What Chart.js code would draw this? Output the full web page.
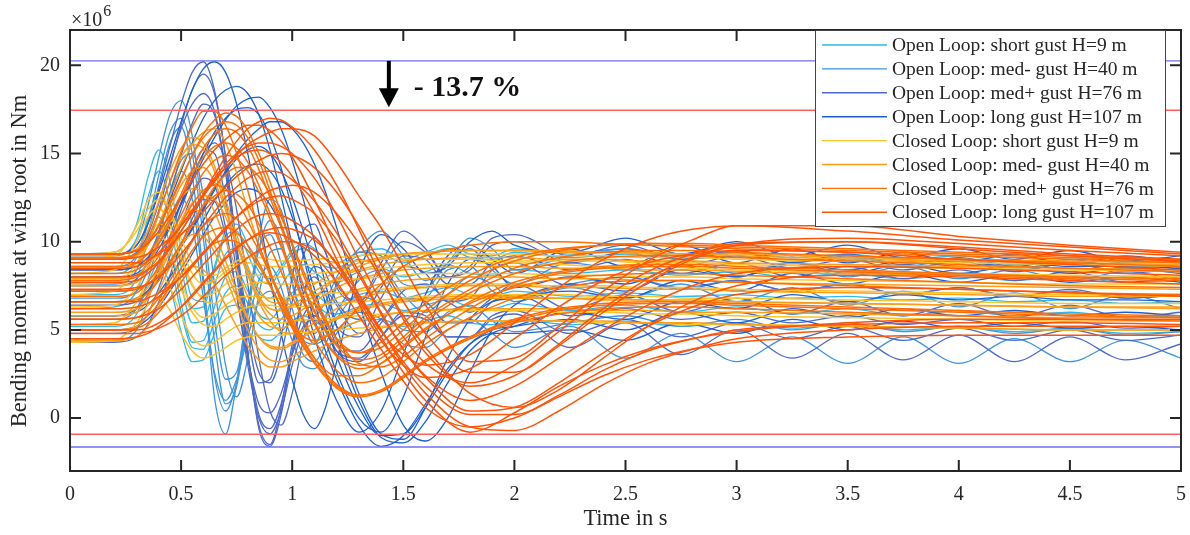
<!DOCTYPE html>
<html><head><meta charset="utf-8">
<script src="https://cdn.jsdelivr.net/npm/chart.js@4.4.1/dist/chart.umd.min.js"></script>
<style>html,body{margin:0;padding:0;background:#fff;}#wrap{width:1190px;height:535px;}</style>
</head><body><div id="wrap"><canvas id="c" width="1190" height="535"></canvas></div>
<script>
// ---- time bases (s) ----
const tCL = [0,0.2,0.3,0.35,0.4,0.45,0.5,0.55,0.6,0.65,0.7,0.75,0.8,0.85,0.9,0.95,1.0,1.1,1.2,1.3,1.4,1.5,1.6,1.8,2.0,2.2,2.4,2.6,2.8,3.0,3.5,4.0,4.5,5.0];
const tOL = [0,0.2,0.3,0.35,0.4,0.45,0.5,0.55,0.6,0.65,0.7,0.75,0.8,0.85,0.9,0.95,1.0,1.05,1.1,1.15,1.2,1.3,1.4,1.5,1.6,1.7,1.8,1.9,2.0,2.25,2.5,2.75,3.0,3.25,3.5,3.75,4.0,4.25,4.5,4.75,5.0];

// ---- Open loop, short gust H=9 m (x1e6 Nm) ----
const olShort1 = [9.2,9.2,10.2,12.5,14.0,12.2,8.6,6.2,6.3,8.4,10.3,10.6,9.3,7.9,7.6,8.4,9.3,9.6,9.2,8.6,8.5,9.2,9.3,8.8,9.2,9.6,9.1,9.0,9.4,9.1,9.3,9.0,9.2,8.9,9.1,8.8,9.0,8.7,8.9,8.6,8.7];
const olShort2 = [7.0,7.0,7.9,10.0,11.4,9.8,6.5,4.3,4.4,6.3,8.0,8.3,7.2,5.9,5.6,6.3,7.1,7.4,7.1,6.6,6.5,7.0,7.2,6.8,7.1,7.4,7.0,6.9,7.2,6.9,7.1,6.9,7.0,6.8,6.9,6.7,6.8,6.6,6.7,6.5,6.6];
const olShort3 = [5.2,5.2,5.9,7.6,8.8,7.5,4.9,3.2,3.3,4.8,6.2,6.4,5.6,4.6,4.4,4.9,5.5,5.8,5.5,5.1,5.0,5.5,5.6,5.2,5.5,5.8,5.4,5.3,5.6,5.3,5.5,5.2,5.4,5.1,5.3,5.0,5.2,4.9,5.1,4.8,4.9];
const olShort4 = [8.2,8.2,9.1,11.3,12.8,11.1,7.7,5.4,5.5,7.5,9.3,9.6,8.4,7.1,6.8,7.5,8.4,8.7,8.3,7.8,7.7,8.3,8.5,8.0,8.3,8.7,8.2,8.1,8.4,8.2,8.4,8.1,8.3,8.0,8.2,7.9,8.1,7.8,8.0,7.7,7.8];
const olShort5 = [9.3,9.4,11.0,13.6,15.2,13.4,9.6,6.8,6.6,8.6,10.6,11.0,9.8,8.3,7.9,8.6,9.5,9.9,9.6,9.0,8.8,9.4,9.6,9.0,9.4,9.8,9.3,9.2,9.6,9.3,9.6,9.2,9.4,9.1,9.3,9.0,9.2,8.9,9.1,8.8,8.9];
const olShort6 = [6.2,6.3,7.2,9.0,10.2,8.9,6.0,4.0,3.9,5.5,7.1,7.5,6.5,5.3,5.0,5.6,6.4,6.7,6.5,6.0,5.9,6.3,6.5,6.1,6.4,6.7,6.3,6.2,6.5,6.1,6.4,6.0,6.3,5.9,6.2,5.8,6.1,5.8,6.0,5.7,5.8];
// ---- Open loop, med- gust H=40 m ----
const olMedM1 = [9.3,9.3,10.0,12.0,14.8,17.2,18.0,16.0,11.2,5.6,2.2,2.6,6.2,10.2,12.4,11.8,9.2,6.6,5.8,6.6,8.0,9.6,10.6,9.2,7.8,8.8,10.2,9.6,8.4,9.2,9.6,9.0,9.4,8.8,9.2,8.6,9.0,8.5,8.8,8.3,8.5];
const olMedM2 = [7.6,7.6,8.4,10.4,13.2,15.6,16.5,13.8,8.0,1.2,-0.9,2.0,6.4,9.6,10.4,8.8,6.2,4.4,4.2,5.6,7.4,9.0,8.4,6.6,6.8,8.4,8.6,7.2,6.8,7.6,8.0,7.4,7.8,7.2,7.6,7.0,7.4,6.9,7.2,6.8,7.0];
const olMedM3 = [5.6,5.6,6.2,7.8,10.2,12.6,14.0,12.4,7.6,2.4,0.4,2.0,5.2,7.8,8.6,7.4,5.2,3.6,3.2,4.2,5.6,6.9,6.4,5.0,4.9,6.0,6.4,5.5,4.9,5.4,5.8,5.2,5.6,5.0,5.4,4.9,5.2,4.8,5.1,4.7,4.9];
const olMedM4 = [4.4,4.4,5.0,6.6,8.9,11.2,12.5,11.0,6.8,2.6,1.0,2.2,4.6,6.6,7.2,6.2,4.4,3.0,2.8,3.6,4.8,6.0,5.6,4.2,4.0,5.0,5.6,4.8,4.0,5.2,3.4,4.8,3.2,4.6,3.1,4.6,3.1,4.5,3.2,4.4,3.4];
const olMedM5 = [8.6,8.6,9.2,11.0,13.8,16.2,17.0,15.0,10.2,4.4,0.8,1.8,5.8,9.6,11.2,10.2,7.6,5.4,4.8,5.8,7.6,9.4,9.2,7.6,7.4,8.8,9.6,8.4,7.6,8.8,8.4,9.0,8.2,8.8,8.0,8.6,7.9,8.4,7.8,8.3,7.8];
const olMedM6 = [6.8,6.8,7.2,8.4,10.4,12.8,14.6,15.0,12.6,7.6,3.0,1.2,3.4,7.0,9.4,9.6,7.8,5.4,4.2,4.6,6.0,7.8,8.4,7.0,6.0,7.0,8.0,7.6,6.6,7.4,6.8,7.6,6.6,7.4,6.4,7.2,6.3,7.1,6.2,7.0,6.2];
// ---- Open loop, med+ gust H=76 m ----
const olMedP1 = [9.3,9.3,9.8,11.0,13.0,15.4,17.8,19.6,20.2,18.6,14.8,9.6,4.8,2.0,2.2,4.6,8.0,10.6,11.0,9.4,7.4,6.6,8.8,10.6,9.6,8.0,8.6,10.2,10.4,9.2,9.8,9.0,9.5,8.8,9.3,8.7,9.1,8.6,9.0,8.5,8.7];
const olMedP2 = [7.5,7.5,7.9,8.9,10.6,12.7,14.9,16.7,17.8,17.2,13.9,9.0,3.6,-0.4,-1.5,0.6,4.2,7.0,8.0,7.0,5.2,4.6,6.8,8.6,8.2,6.6,6.8,8.4,8.8,7.5,8.0,7.3,7.8,7.2,7.6,7.0,7.4,6.9,7.3,6.8,7.0];
const olMedP3 = [5.8,5.8,6.2,7.0,8.5,10.3,12.2,14.0,15.2,15.0,12.4,8.2,3.6,0.2,-0.6,0.8,3.6,5.8,6.4,5.6,4.2,3.8,5.4,6.8,6.6,5.4,5.4,6.6,7.0,5.8,6.2,5.6,6.0,5.4,5.8,5.3,5.6,5.2,5.5,5.1,5.2];
const olMedP4 = [4.3,4.3,4.6,5.3,6.6,8.1,9.8,11.3,12.4,12.3,10.3,7.0,3.4,0.8,0.3,1.4,3.6,5.2,5.6,4.9,3.8,3.4,4.6,5.8,5.6,4.6,4.6,5.6,5.9,4.0,5.4,3.6,5.0,3.4,4.8,3.3,4.7,3.2,4.6,3.3,4.2];
const olMedP5 = [8.4,8.4,8.8,9.9,11.8,14.2,16.6,18.6,19.5,18.4,14.8,9.6,3.8,-0.6,-1.6,0.2,3.8,7.0,8.6,8.2,6.6,5.6,7.4,9.2,9.0,7.6,7.6,8.8,9.2,8.4,9.0,8.2,8.8,8.0,8.6,7.9,8.4,7.8,8.3,7.7,8.0];
const olMedP6 = [6.4,6.4,6.6,7.2,8.4,10.0,11.8,13.6,15.0,15.6,14.6,11.8,7.6,3.4,0.4,-0.4,1.4,4.4,6.6,7.2,6.4,4.8,5.6,7.2,7.6,6.6,6.0,6.8,7.6,6.2,7.0,6.0,6.8,5.9,6.6,5.8,6.5,5.7,6.4,5.7,6.0];
const olMedP7 = [9.0,9.0,9.4,10.4,12.2,14.4,16.4,17.8,18.4,17.4,14.2,9.8,5.4,2.6,2.0,3.6,6.6,9.2,10.2,9.4,7.6,6.6,8.4,10.0,9.4,8.0,8.4,9.8,10.0,8.8,9.4,8.6,9.2,8.5,9.0,8.4,8.9,8.3,8.8,8.2,8.5];
const olMedP8 = [4.8,4.8,5.1,5.9,7.4,9.2,11.0,12.6,13.6,13.2,10.8,7.0,3.0,0.0,-0.9,0.4,3.0,5.0,5.8,5.2,3.8,3.2,4.6,6.0,5.8,4.6,4.6,5.8,6.1,4.8,5.6,4.6,5.4,4.5,5.2,4.4,5.1,4.4,5.0,4.4,4.7];
// ---- Open loop, long gust H=107 m ----
const olLong1 = [9.3,9.3,9.8,11.0,12.8,14.8,16.8,18.6,19.8,20.2,19.6,17.8,15.0,11.6,8.0,4.8,2.2,0.2,-0.6,0.6,3.2,8.2,10.4,9.6,8.2,8.6,10.0,10.6,9.8,9.4,10.2,9.3,10.0,9.2,9.8,9.1,9.6,9.0,9.5,8.9,9.2];
const olLong2 = [8.4,8.4,8.6,9.1,9.9,10.9,12.1,13.4,14.7,15.9,16.9,17.7,18.1,18.2,17.6,16.4,14.6,12.4,10.0,7.6,5.2,1.4,-0.9,-1.2,0.6,3.4,5.6,6.6,6.8,7.6,7.2,8.4,8.0,8.8,8.4,8.9,8.6,8.8,8.6,8.6,8.5];
const olLong3 = [6.6,6.6,6.8,7.2,7.9,8.7,9.7,10.8,11.9,13.0,13.9,14.7,15.2,15.4,15.0,14.0,12.5,10.6,8.6,6.5,4.4,1.0,-1.1,-1.4,-0.2,2.0,3.8,4.8,5.2,6.0,5.6,6.6,6.2,7.0,6.6,7.0,6.7,6.9,6.7,6.7,6.6];
const olLong4 = [5.0,5.0,5.2,5.6,6.3,7.2,8.2,9.3,10.4,11.4,12.2,12.8,13.0,12.8,12.1,10.9,9.3,7.5,5.6,3.8,2.2,-0.4,-1.6,-1.0,0.8,2.8,4.2,4.8,4.8,5.0,4.4,5.4,4.8,5.6,5.0,5.5,5.1,5.4,5.1,5.2,5.0];
const olLong5 = [9.0,9.0,9.3,9.9,11.0,12.4,14.0,15.6,17.0,18.0,18.6,18.8,18.4,17.2,15.2,12.6,9.8,7.0,4.6,2.6,1.0,-0.8,0.4,3.6,7.0,9.2,9.8,9.0,8.2,9.6,8.6,9.8,8.8,9.6,8.8,9.4,8.8,9.3,8.7,9.2,8.8];
const olLong6 = [7.2,7.2,7.3,7.6,8.1,8.8,9.7,10.7,11.8,12.9,14.0,15.0,15.8,16.4,16.8,16.8,16.4,15.6,14.4,12.8,10.8,6.6,2.6,-0.4,-1.3,0.0,2.6,5.0,6.4,7.2,6.8,7.8,7.2,8.2,7.6,8.2,7.7,8.1,7.7,8.0,7.7];
const olLong7 = [8.0,8.0,8.2,8.7,9.6,10.8,12.2,13.6,15.0,16.2,17.0,17.5,17.6,17.2,16.0,14.2,11.8,9.2,6.6,4.4,2.6,0.0,-0.8,1.2,4.6,7.6,9.0,8.6,7.4,8.0,7.6,8.6,8.0,8.8,8.2,8.7,8.2,8.6,8.2,8.5,8.2];
const olLong8 = [5.8,5.8,6.0,6.4,7.1,8.0,9.0,10.1,11.2,12.3,13.2,13.9,14.3,14.4,14.0,13.0,11.4,9.4,7.3,5.3,3.5,0.6,-1.0,-0.9,0.6,2.6,4.2,5.0,5.2,5.6,5.0,6.0,5.4,6.2,5.7,6.2,5.8,6.1,5.8,6.0,5.8];

// ---- Closed loop, short gust H=9 m ----
const clShort1 = [9.0,9.2,10.9,12.3,12.8,11.7,9.7,8.2,7.6,7.8,8.3,8.7,8.8,8.7,8.6,8.6,8.6,8.7,8.8,8.9,9.0,9.0,9.0,9.0,8.9,8.9,8.9,8.8,8.8,8.7,8.6,8.5,8.4,8.3];
const clShort2 = [7.0,7.2,8.6,9.9,10.4,9.5,7.7,6.3,5.7,5.9,6.4,6.8,6.9,6.9,6.8,6.8,6.9,7.0,7.1,7.2,7.3,7.4,7.5,7.6,7.6,7.5,7.5,7.4,7.4,7.3,7.2,7.1,7.0,7.0];
const clShort3 = [5.3,5.4,6.6,7.8,8.2,7.4,5.8,4.6,4.1,4.3,4.8,5.2,5.4,5.4,5.4,5.4,5.5,5.6,5.7,5.8,5.9,6.0,6.1,6.1,6.1,6.0,6.0,5.9,5.9,5.8,5.7,5.6,5.5,5.5];
const clShort4 = [8.2,8.4,10.0,11.4,11.9,10.9,9.0,7.5,6.9,7.1,7.6,8.0,8.1,8.1,8.0,8.0,8.1,8.2,8.3,8.4,8.5,8.6,8.7,8.8,8.8,8.7,8.6,8.6,8.5,8.4,8.3,8.2,8.1,8.0];
const clShort5 = [4.3,4.4,5.4,6.4,6.8,6.1,4.8,3.8,3.4,3.6,4.0,4.4,4.6,4.7,4.7,4.7,4.8,4.9,5.0,5.1,5.2,5.3,5.4,5.5,5.5,5.5,5.4,5.4,5.3,5.3,5.2,5.1,5.0,5.0];
const clShort6 = [9.3,9.4,10.6,11.8,12.4,11.8,10.2,8.8,8.1,8.1,8.5,8.9,9.1,9.1,9.0,8.9,8.9,9.0,9.1,9.2,9.3,9.3,9.3,9.3,9.3,9.2,9.2,9.1,9.1,9.0,8.9,8.8,8.7,8.6];
const clShort7 = [6.3,6.4,7.4,8.6,9.2,8.7,7.3,6.0,5.3,5.2,5.6,6.0,6.3,6.4,6.4,6.3,6.3,6.4,6.5,6.6,6.7,6.8,6.9,7.0,7.0,7.0,6.9,6.9,6.8,6.8,6.7,6.6,6.5,6.5];
const clShort8 = [7.6,7.7,8.8,10.2,11.0,10.6,9.1,7.6,6.7,6.5,6.9,7.3,7.6,7.7,7.7,7.6,7.6,7.7,7.8,7.9,8.0,8.1,8.2,8.2,8.2,8.1,8.1,8.0,8.0,7.9,7.8,7.7,7.6,7.6];
// ---- Closed loop, med- gust H=40 m ----
const clMedM1 = [9.3,9.3,9.6,10.6,12.3,14.0,15.3,15.9,15.6,14.3,12.4,10.4,8.6,7.3,6.6,6.5,6.8,7.6,8.3,8.8,9.1,9.3,9.4,9.5,9.5,9.4,9.4,9.3,9.3,9.2,9.0,8.9,8.8,8.7];
const clMedM2 = [7.5,7.5,7.7,8.5,9.9,11.4,12.5,13.0,12.8,11.7,10.1,8.4,6.9,5.8,5.2,5.1,5.4,6.1,6.8,7.3,7.6,7.8,7.9,8.0,8.0,7.9,7.9,7.8,7.8,7.7,7.6,7.5,7.4,7.3];
const clMedM3 = [6.0,6.0,6.2,6.9,8.1,9.4,10.4,10.9,10.7,9.8,8.4,6.9,5.6,4.6,4.1,4.0,4.3,5.0,5.6,6.1,6.4,6.6,6.7,6.8,6.8,6.8,6.7,6.7,6.6,6.6,6.5,6.4,6.3,6.3];
const clMedM4 = [4.4,4.4,4.6,5.2,6.3,7.4,8.2,8.6,8.4,7.6,6.4,5.2,4.1,3.3,2.9,2.9,3.2,3.8,4.4,4.8,5.1,5.3,5.4,5.5,5.5,5.5,5.5,5.4,5.4,5.3,5.2,5.1,5.0,5.0];
const clMedM5 = [8.5,8.5,8.8,9.8,11.6,13.4,14.8,15.5,15.3,14.0,12.0,10.0,8.2,6.9,6.2,6.1,6.4,7.2,7.9,8.4,8.7,8.9,9.0,9.1,9.1,9.0,9.0,8.9,8.9,8.8,8.7,8.6,8.5,8.4];
const clMedM6 = [9.0,9.0,9.2,9.8,11.0,12.6,14.2,15.5,16.2,16.4,15.6,13.9,11.8,9.8,8.1,6.9,6.4,6.9,7.9,8.6,9.0,9.3,9.4,9.5,9.5,9.5,9.4,9.4,9.3,9.3,9.1,9.0,8.9,8.8];
const clMedM7 = [6.6,6.6,6.8,7.4,8.5,9.9,11.2,12.2,12.6,12.4,11.4,9.8,8.1,6.6,5.5,4.9,4.8,5.4,6.2,6.8,7.1,7.3,7.4,7.5,7.5,7.4,7.4,7.3,7.3,7.2,7.1,7.0,6.9,6.9];
const clMedM8 = [5.0,5.0,5.2,5.9,7.2,8.6,9.8,10.4,10.3,9.4,8.0,6.4,5.0,3.9,3.3,3.2,3.5,4.3,5.0,5.5,5.8,6.0,6.1,6.2,6.2,6.2,6.1,6.1,6.0,6.0,5.9,5.8,5.7,5.7];
const clMedM9 = [7.9,7.9,8.1,8.8,10.2,11.8,13.2,14.0,14.2,13.4,11.8,10.0,8.2,6.8,5.9,5.6,5.8,6.6,7.4,7.9,8.2,8.4,8.5,8.6,8.6,8.5,8.5,8.4,8.4,8.3,8.2,8.1,8.0,7.9];
const clMedM10 = [5.8,5.8,6.0,6.8,8.2,9.8,11.1,11.8,11.6,10.5,8.9,7.2,5.7,4.6,4.0,3.9,4.2,5.0,5.7,6.2,6.5,6.7,6.8,6.9,6.9,6.8,6.8,6.7,6.7,6.6,6.5,6.4,6.3,6.2];
// ---- Closed loop, med+ gust H=76 m ----
const clMedP1 = [9.3,9.3,9.5,10.0,10.9,12.1,13.5,14.9,16.1,16.9,17.3,17.1,16.3,15.0,13.4,11.6,9.8,6.6,4.5,3.7,4.0,5.0,6.1,7.8,8.9,9.5,9.8,9.9,9.9,9.8,9.6,9.4,9.2,9.0];
const clMedP2 = [7.8,7.8,8.0,8.4,9.2,10.3,11.5,12.8,13.9,14.6,14.9,14.7,14.0,12.8,11.3,9.7,8.1,5.3,3.5,2.8,3.1,4.0,5.0,6.6,7.7,8.3,8.6,8.7,8.7,8.6,8.4,8.2,8.0,7.9];
const clMedP3 = [6.6,6.6,6.7,7.1,7.8,8.8,9.9,11.0,12.0,12.6,12.9,12.7,12.1,11.0,9.7,8.3,6.9,4.4,2.7,2.0,2.3,3.2,4.2,5.7,6.8,7.4,7.7,7.8,7.8,7.7,7.5,7.3,7.1,7.0];
const clMedP4 = [5.0,5.0,5.1,5.4,6.0,6.8,7.7,8.6,9.4,9.9,10.1,10.0,9.5,8.6,7.5,6.3,5.2,3.2,1.8,1.3,1.6,2.4,3.3,4.6,5.5,6.1,6.4,6.5,6.5,6.4,6.2,6.0,5.8,5.7];
const clMedP5 = [8.6,8.6,8.8,9.3,10.2,11.3,12.7,14.1,15.3,16.1,16.4,16.2,15.4,14.1,12.5,10.8,9.1,6.1,4.1,3.3,3.6,4.6,5.7,7.3,8.5,9.1,9.4,9.5,9.5,9.4,9.2,9.0,8.8,8.6];
const clMedP6 = [9.0,9.0,9.3,10.2,11.7,13.4,15.1,16.5,17.4,17.4,16.6,15.0,12.9,10.6,8.4,6.6,5.3,4.4,5.0,6.3,7.6,8.6,9.2,9.8,10.0,10.0,9.9,9.8,9.7,9.6,9.4,9.2,9.0,8.8];
const clMedP7 = [7.2,7.2,7.3,7.6,8.1,8.9,9.9,11.0,12.1,13.1,13.8,14.2,14.2,13.7,12.7,11.4,9.9,6.9,4.5,3.1,2.9,3.5,4.5,6.2,7.5,8.2,8.5,8.6,8.6,8.5,8.3,8.1,7.9,7.8];
const clMedP8 = [5.6,5.6,5.7,6.1,6.8,7.8,8.9,10.0,10.9,11.4,11.6,11.3,10.6,9.5,8.2,6.9,5.6,3.4,1.9,1.3,1.5,2.3,3.2,4.6,5.6,6.2,6.5,6.6,6.6,6.5,6.3,6.1,5.9,5.8];
const clMedP9 = [9.1,9.1,9.3,9.9,10.9,12.2,13.6,14.9,15.9,16.5,16.8,16.6,15.9,14.6,12.9,11.0,9.2,6.0,4.2,3.7,4.3,5.4,6.5,8.1,9.1,9.6,9.8,9.9,9.8,9.7,9.5,9.3,9.1,8.9];
const clMedP10 = [6.9,6.9,7.1,7.7,8.6,9.8,11.0,12.1,12.9,13.2,13.0,12.3,11.2,9.8,8.2,6.7,5.4,3.4,2.4,2.4,3.1,4.1,5.1,6.5,7.4,7.9,8.1,8.2,8.2,8.1,7.9,7.7,7.5,7.4];
const clMedP11 = [8.2,8.2,8.4,8.9,9.9,11.1,12.5,13.8,14.8,15.4,15.6,15.3,14.5,13.2,11.6,9.9,8.3,5.4,3.6,3.0,3.4,4.4,5.5,7.1,8.2,8.8,9.1,9.2,9.2,9.1,8.9,8.7,8.5,8.3];
const clMedP12 = [5.3,5.3,5.4,5.8,6.5,7.5,8.5,9.5,10.3,10.7,10.8,10.5,9.8,8.8,7.6,6.3,5.1,3.1,1.7,1.2,1.5,2.3,3.2,4.5,5.4,5.9,6.2,6.3,6.3,6.2,6.0,5.8,5.6,5.5];
// ---- Closed loop, long gust H=107 m ----
const clLong1 = [9.0,9.0,9.1,9.3,9.7,10.2,10.9,11.7,12.6,13.4,14.2,14.9,15.5,15.9,16.2,16.4,16.4,16.0,14.5,12.6,10.8,8.6,6.4,3.2,3.4,5.2,7.2,8.9,10.1,10.9,10.9,10.3,9.8,9.4];
const clLong2 = [7.3,7.3,7.4,7.6,8.0,8.6,9.3,10.1,10.9,11.7,12.5,13.1,13.6,13.9,14.0,13.9,13.5,12.3,10.5,8.3,6.0,3.9,2.4,1.0,1.8,3.4,5.0,6.4,7.5,8.2,8.6,8.5,8.3,8.1];
const clLong3 = [5.6,5.6,5.7,5.9,6.2,6.7,7.3,8.0,8.7,9.4,10.1,10.7,11.2,11.5,11.6,11.5,11.2,10.3,8.7,6.7,4.6,2.6,1.0,-0.8,0.3,1.8,3.0,3.9,4.5,4.9,5.4,5.6,5.6,5.6];
const clLong4 = [8.0,8.0,8.1,8.4,8.9,9.7,10.6,11.6,12.7,13.8,14.8,15.7,16.4,16.8,17.0,16.9,16.5,15.2,13.2,10.7,8.0,5.6,3.7,1.8,2.4,4.2,6.2,7.9,9.1,9.8,10.0,9.7,9.3,9.0];
const clLong5 = [4.5,4.5,4.6,4.8,5.2,5.7,6.3,7.0,7.7,8.4,9.1,9.7,10.1,10.4,10.5,10.4,10.1,9.2,7.7,5.8,3.9,2.1,0.6,-0.5,0.0,1.2,2.4,3.3,3.9,4.3,4.6,4.7,4.7,4.7];
const clLong6 = [9.3,9.3,9.5,9.9,10.6,11.5,12.5,13.5,14.4,15.2,15.8,16.3,16.6,16.6,16.3,15.7,14.8,12.4,9.6,7.0,4.9,3.6,3.0,3.6,5.4,7.4,9.0,10.1,10.7,10.9,10.6,10.1,9.7,9.3];
const clLong7 = [6.6,6.6,6.6,6.8,7.1,7.5,8.0,8.6,9.3,10.0,10.7,11.4,12.0,12.5,12.9,13.1,13.2,12.8,11.6,9.9,7.9,5.8,4.0,1.4,0.6,1.6,3.4,5.2,6.6,7.5,8.1,8.0,7.8,7.6];
const clLong8 = [8.5,8.5,8.6,8.9,9.4,10.1,10.9,11.8,12.7,13.6,14.4,15.0,15.4,15.6,15.6,15.4,15.0,13.6,11.5,9.0,6.6,4.6,3.1,2.0,3.0,4.9,6.8,8.3,9.3,9.9,10.0,9.6,9.2,8.9];
const clLong9 = [5.0,5.0,5.0,5.1,5.4,5.8,6.3,6.9,7.6,8.3,9.0,9.6,10.1,10.5,10.7,10.8,10.7,10.1,8.8,7.0,5.0,3.0,1.4,-0.5,-0.7,0.4,1.9,3.1,3.9,4.5,5.0,5.2,5.2,5.2];
const clLong10 = [8.8,8.8,8.8,9.0,9.3,9.8,10.4,11.0,11.7,12.4,13.1,13.7,14.2,14.6,14.9,15.0,14.9,14.2,12.8,10.9,8.7,6.6,4.8,2.6,2.6,4.1,6.0,7.7,9.0,9.8,10.2,9.9,9.5,9.2];
const clLong11 = [6.2,6.2,6.3,6.5,6.9,7.4,8.0,8.7,9.4,10.1,10.8,11.4,11.9,12.3,12.5,12.6,12.4,11.6,10.1,8.1,5.9,3.9,2.3,0.4,0.6,2.0,3.7,5.2,6.3,7.0,7.4,7.3,7.1,6.9];
const clLong12 = [7.7,7.7,7.8,8.2,8.8,9.6,10.6,11.6,12.6,13.5,14.2,14.8,15.1,15.2,15.0,14.5,13.7,11.6,9.0,6.5,4.4,3.0,2.3,2.8,4.5,6.3,7.8,8.8,9.3,9.5,9.4,9.0,8.7,8.4];
const clLong13 = [4.8,4.8,4.8,4.9,5.1,5.4,5.8,6.3,6.9,7.5,8.1,8.6,9.1,9.5,9.8,10.0,10.0,9.5,8.4,6.8,5.0,3.2,1.8,0.2,0.2,1.3,2.7,3.8,4.5,5.0,5.3,5.4,5.4,5.3];

// ---- envelope reference levels (x1e6 Nm) ----
const olMax = 20.25, clMax = 17.45, clMin = -0.92, olMin = -1.64;
const reductionText = '- 13.7 %';

// ---- axes ----
const xTicks = [0,0.5,1,1.5,2,2.5,3,3.5,4,4.5,5];
const yTicks = [0,5,10,15,20];
const xTitle = 'Time in s';
const yTitle = 'Bending moment at wing root in Nm';

// ---- legend entries ----
const legendLabels = ['Open Loop: short gust H=9 m','Open Loop: med- gust H=40 m','Open Loop: med+ gust H=76 m','Open Loop: long gust H=107 m',
  'Closed Loop: short gust H=9 m','Closed Loop: med- gust H=40 m','Closed Loop: med+ gust H=76 m','Closed Loop: long gust H=107 m'];
const legendColors = ['rgb(45,185,238)','rgb(62,148,222)','rgb(78,106,200)','rgb(28,96,210)',
  'rgb(250,196,45)','rgb(252,158,25)','rgb(255,110,5)','rgb(255,84,8)'];

const groups = [
  {t:tOL, c:legendColors[0], w:1.3, curves:[olShort1,olShort2,olShort3,olShort4,olShort5,olShort6]},
  {t:tOL, c:legendColors[1], w:1.3, curves:[olMedM1,olMedM2,olMedM3,olMedM4,olMedM5,olMedM6]},
  {t:tOL, c:legendColors[2], w:1.3, curves:[olMedP1,olMedP2,olMedP3,olMedP4,olMedP5,olMedP6,olMedP7,olMedP8]},
  {t:tOL, c:legendColors[3], w:1.3, curves:[olLong1,olLong2,olLong3,olLong4,olLong5,olLong6,olLong7,olLong8]},
  {t:tCL, c:legendColors[4], w:1.5, curves:[clShort1,clShort2,clShort3,clShort4,clShort5,clShort6,clShort7,clShort8]},
  {t:tCL, c:legendColors[5], w:1.5, curves:[clMedM1,clMedM2,clMedM3,clMedM4,clMedM5,clMedM6,clMedM7,clMedM8,clMedM9,clMedM10]},
  {t:tCL, c:legendColors[6], w:1.5, curves:[clMedP1,clMedP2,clMedP3,clMedP4,clMedP5,clMedP6,clMedP7,clMedP8,clMedP9,clMedP10,clMedP11,clMedP12]},
  {t:tCL, c:legendColors[7], w:1.5, curves:[clLong1,clLong2,clLong3,clLong4,clLong5,clLong6,clLong7,clLong8,clLong9,clLong10,clLong11,clLong12,clLong13]}
];

const datasets = [];
const refLine = (v, col) => ({data:[{x:0,y:v},{x:5,y:v}], borderColor:col, borderWidth:1.4, pointRadius:0, tension:0});
datasets.push(refLine(olMax,'rgb(110,110,245)'), refLine(olMin,'rgb(110,110,245)'), refLine(clMax,'rgb(255,95,95)'), refLine(clMin,'rgb(255,95,95)'));
// first dataset is drawn on top: closed loop (plotted last in the original) first
for (let g = groups.length - 1; g >= 0; g--) {
  const G = groups[g];
  G.curves.forEach(arr => {
    datasets.push({data: arr.map((v,i)=>({x:G.t[i], y:v})), borderColor:G.c, borderWidth:G.w, pointRadius:0, cubicInterpolationMode:'monotone'});
  });
}

const FAM = '"Liberation Serif","Times New Roman",serif';
const INK = '#262626';

const framePlugin = {
  id:'frame',
  afterDraw(chart){
    const {ctx, chartArea:a, scales:{x, y}} = chart;
    ctx.save();
    ctx.strokeStyle = INK; ctx.lineWidth = 2;
    ctx.strokeRect(a.left, a.top, a.right - a.left, a.bottom - a.top);
    const tl = 11;
    ctx.beginPath();
    xTicks.forEach(v => { const p = x.getPixelForValue(v);
      ctx.moveTo(p, a.bottom); ctx.lineTo(p, a.bottom - tl);
      ctx.moveTo(p, a.top); ctx.lineTo(p, a.top + tl); });
    yTicks.forEach(v => { const p = y.getPixelForValue(v);
      ctx.moveTo(a.left, p); ctx.lineTo(a.left + tl, p);
      ctx.moveTo(a.right, p); ctx.lineTo(a.right - tl, p); });
    ctx.stroke();
    // y axis title
    ctx.fillStyle = INK;
    ctx.save();
    ctx.translate(20, 261); ctx.rotate(-Math.PI/2);
    ctx.font = '22.5px ' + FAM; ctx.textAlign = 'center'; ctx.textBaseline = 'middle';
    ctx.fillText(yTitle, 0, 0);
    ctx.restore();
    // exponent label
    ctx.textBaseline = 'alphabetic'; ctx.textAlign = 'left';
    ctx.font = '20px ' + FAM;
    ctx.fillText('\u00d710', a.left + 1, 26);
    const w10 = ctx.measureText('\u00d710').width;
    ctx.font = '16px ' + FAM;
    ctx.fillText('6', a.left + 2 + w10, 16);
    // arrow
    const ax = x.getPixelForValue(1.435);
    const y0 = y.getPixelForValue(olMax), y1 = y.getPixelForValue(clMax) - 3;
    ctx.fillStyle = '#000'; ctx.strokeStyle = '#000'; ctx.lineWidth = 4;
    ctx.beginPath(); ctx.moveTo(ax, y0); ctx.lineTo(ax, y1 - 16); ctx.stroke();
    ctx.beginPath(); ctx.moveTo(ax - 10, y1 - 19); ctx.lineTo(ax + 10, y1 - 19); ctx.lineTo(ax, y1); ctx.closePath(); ctx.fill();
    ctx.font = 'bold 30px ' + FAM; ctx.fillStyle = '#111';
    ctx.fillText(reductionText, ax + 25, 96);
    // legend
    const lx = 815, ly = 30, lw = 350, lh = 196;
    ctx.fillStyle = '#fff'; ctx.fillRect(lx, ly, lw, lh);
    ctx.strokeStyle = '#444'; ctx.lineWidth = 1; ctx.strokeRect(lx + 0.5, ly + 0.5, lw, lh);
    ctx.font = '19.5px ' + FAM; ctx.textBaseline = 'middle';
    legendLabels.forEach((s, i) => {
      const yy = 45 + i * 23.9;
      ctx.strokeStyle = legendColors[i]; ctx.lineWidth = 1.4;
      ctx.beginPath(); ctx.moveTo(822, yy); ctx.lineTo(887, yy); ctx.stroke();
      ctx.fillStyle = INK; ctx.fillText(s, 892, yy + 1);
    });
    ctx.restore();
  }
};

new Chart(document.getElementById('c'), {
  type:'line',
  data:{datasets},
  options:{
    responsive:false, animation:false, devicePixelRatio:1,
    layout:{padding:{top:30, right:9, left:0, bottom:0}},
    plugins:{legend:{display:false}, tooltip:{enabled:false}},
    scales:{
      x:{type:'linear', min:0, max:5,
        afterFit: s => { s.height = 64; s.paddingLeft = 0; s.paddingRight = 0; },
        afterBuildTicks: s => { s.ticks = xTicks.map(v => ({value:v})); },
        grid:{display:false, drawTicks:false}, border:{display:false},
        ticks:{padding:12, color:INK, font:{family:FAM, size:20}, maxRotation:0, autoSkip:false, callback: v => String(v)},
        title:{display:true, text:xTitle, color:INK, font:{family:FAM, size:22.5}, padding:{top:0, bottom:2}}
      },
      y:{type:'linear', min:-3, max:22,
        afterFit: s => { s.width = 70; s.paddingTop = 0; s.paddingBottom = 0; },
        afterBuildTicks: s => { s.ticks = yTicks.map(v => ({value:v})); },
        grid:{display:false, drawTicks:false}, border:{display:false},
        ticks:{padding:10, color:INK, font:{family:FAM, size:20}, callback: v => String(v)}
      }
    }
  },
  plugins:[framePlugin]
});
</script>
</body></html>
